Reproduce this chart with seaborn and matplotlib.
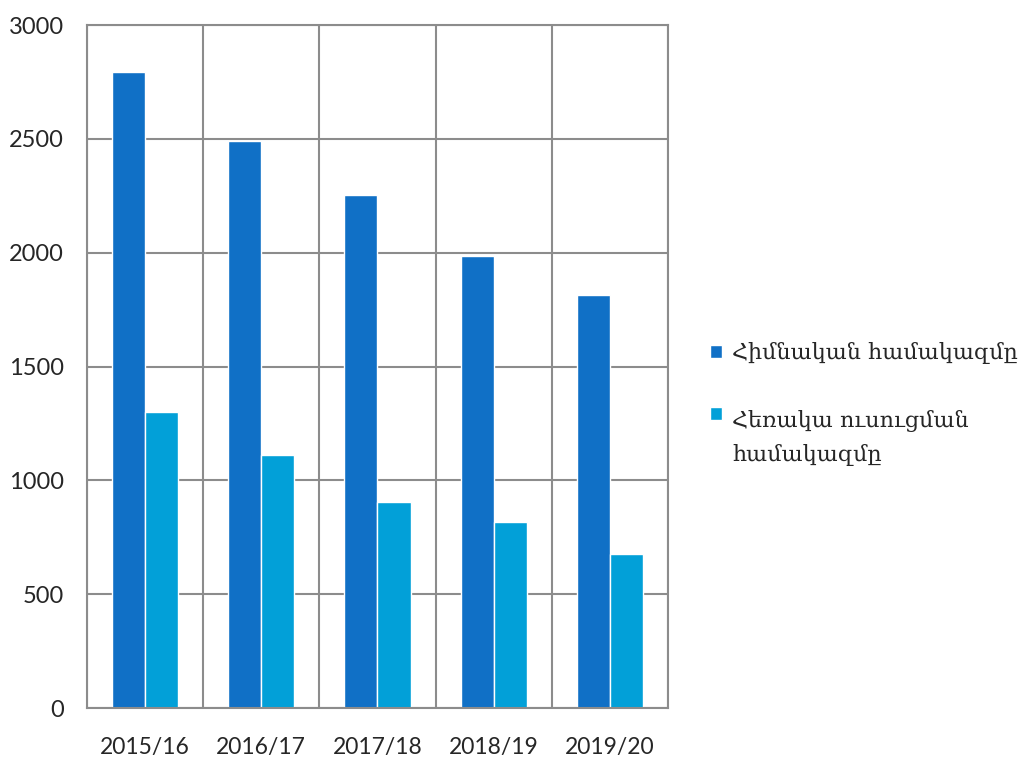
import numpy as np
import pandas as pd
import matplotlib
matplotlib.use("Agg")
import matplotlib.pyplot as plt
import seaborn as sns

years = ["2015/16", "2016/17", "2017/18", "2018/19", "2019/20"]
main_program = [2795, 2490, 2253, 1984, 1813]
distance_program = [1298, 1113, 903, 815, 675]
series_names = ["Հիմնական համակազմը", "Հեռակա ուսուցման\nհամակազմը"]
colors = ["#1070C6", "#02A0D8"]

df = pd.DataFrame({
    "year": years * 2,
    "value": main_program + distance_program,
    "series": [series_names[0]] * len(years) + [series_names[1]] * len(years),
})

sns.set_style("white")
plt.rcParams["font.family"] = ["Lato", "DejaVu Sans"]

fig = plt.figure(figsize=(10.27, 7.6), dpi=100)
ax = fig.add_axes([0.0847, 0.0684, 0.5657, 0.8987])

sns.barplot(data=df, x="year", y="value", hue="series", palette=colors,
            width=0.57, gap=0, saturation=1, ax=ax, legend=True)

grid_col = "#8C8C8C"
ax.set_xlim(-0.5, len(years) - 0.5)
ax.set_ylim(0, 3000)
ax.set_yticks(np.arange(0, 3001, 500))
ax.set_xticks(np.arange(-0.5, len(years), 1), minor=True)
ax.grid(axis="y", which="major", color=grid_col, lw=1.5)
ax.grid(axis="x", which="minor", color=grid_col, lw=1.5)
ax.set_axisbelow(True)
for s in ax.spines.values():
    s.set_color(grid_col)
    s.set_linewidth(1.5)
ax.tick_params(axis="x", which="major", length=0, labelsize=16.5, pad=21)
ax.tick_params(axis="x", which="minor", length=5.5, width=1.5, color=grid_col)
ax.tick_params(axis="y", length=6.5, width=1.5, color=grid_col, labelsize=17, pad=10)
ax.set_xlabel("")
ax.set_ylabel("")

handles, labels = ax.get_legend_handles_labels()
ax.get_legend().remove()
leg = fig.legend(handles, labels, loc="center left", bbox_to_anchor=(0.672, 0.468),
                 frameon=False, handlelength=0.55, handleheight=0.55, handletextpad=0.45,
                 labelspacing=2.05, prop={"family": ["DejaVu Serif"], "size": 16})
for t in leg.get_texts():
    t.set_linespacing(1.75)
# put the square of the wrapped entry next to its first line
h = leg.legend_handles[1]
h.set_y(h.get_y() + 18)

fig.savefig("out.png", dpi=100)
